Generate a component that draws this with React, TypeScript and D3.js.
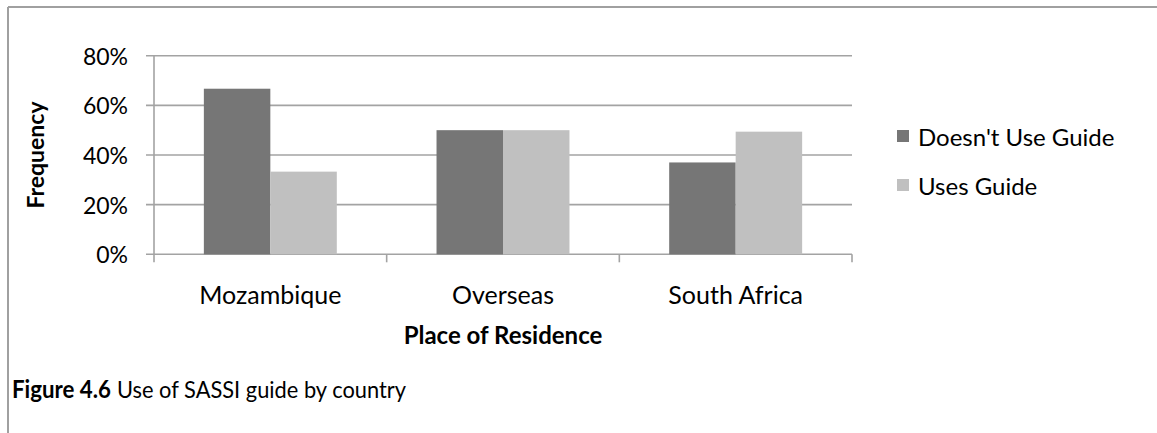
import React from 'react';
import * as d3 from 'd3';

const categories = ['Mozambique', 'Overseas', 'South Africa'];
const seriesNames = ["Doesn't Use Guide", 'Uses Guide'];
const doesntUseGuide = [0.667, 0.5, 0.37];
const usesGuide = [0.333, 0.5, 0.494];
const yTicks = [0, 0.2, 0.4, 0.6, 0.8];
const seriesColors = ['#767676', '#C0C0C0'];

const FONT = 'Lato, "Open Sans", sans-serif';

export default function App() {
  const W = 1157;
  const H = 433;
  const plot = { left: 154, right: 852, top: 55.7, bottom: 254.3 };
  const seriesData = [doesntUseGuide, usesGuide];

  const x = d3.scaleBand<string>().domain(categories).range([plot.left, plot.right]).padding(0);
  const xs = d3
    .scaleBand<string>()
    .domain(seriesNames)
    .range([0, x.bandwidth()])
    .paddingInner(0)
    .paddingOuter(0.75);
  const y = d3.scaleLinear().domain([0, 0.8]).range([plot.bottom, plot.top]);
  const fmt = d3.format('.0%');

  const gridColor = '#a3a3a3';
  const boundaries = [plot.left, ...categories.map((c) => (x(c) as number) + x.bandwidth())];

  return (
    <svg width={W} height={H} style={{ position: 'absolute', left: 0, top: 0, background: '#fff' }}>
      {/* outer frame */}
      <line x1={8} y1={7} x2={W} y2={7} stroke="#a0a0a0" strokeWidth={2} />
      <line x1={8} y1={7} x2={8} y2={H} stroke="#a0a0a0" strokeWidth={2} />

      {/* gridlines */}
      {yTicks.map((t) => (
        <line key={t} x1={plot.left - 8} x2={plot.right} y1={y(t)} y2={y(t)} stroke={gridColor} strokeWidth={1.6} />
      ))}
      {/* y axis */}
      <line x1={plot.left} x2={plot.left} y1={plot.top} y2={plot.bottom} stroke={gridColor} strokeWidth={1.6} />
      {/* x ticks */}
      {boundaries.map((b, i) => (
        <line key={i} x1={b} x2={b} y1={plot.bottom} y2={plot.bottom + 8} stroke={gridColor} strokeWidth={1.6} />
      ))}

      {/* bars */}
      {categories.map((c, ci) =>
        seriesNames.map((s, si) => {
          const v = seriesData[si][ci];
          return (
            <rect
              key={c + s}
              x={(x(c) as number) + (xs(s) as number)}
              y={y(v)}
              width={xs.bandwidth()}
              height={plot.bottom - y(v)}
              fill={seriesColors[si]}
            />
          );
        })
      )}

      {/* y tick labels */}
      {yTicks.map((t) => (
        <text
          key={t}
          x={128}
          y={y(t)}
          textAnchor="end"
          dominantBaseline="central"
          fontFamily={FONT}
          fontSize={23}
          fill="#000"
        >
          {fmt(t)}
        </text>
      ))}

      {/* category labels */}
      {categories.map((c) => (
        <text
          key={c}
          x={(x(c) as number) + x.bandwidth() / 2}
          y={294}
          textAnchor="middle"
          dominantBaseline="central"
          fontFamily={FONT}
          fontSize={25}
          fill="#000"
        >
          {c}
        </text>
      ))}

      {/* axis titles */}
      <text
        x={(plot.left + plot.right) / 2}
        y={334}
        textAnchor="middle"
        dominantBaseline="central"
        fontFamily={FONT}
        fontWeight="bold"
        fontSize={24}
        fill="#000"
      >
        Place of Residence
      </text>
      <text
        transform={`translate(35,${(plot.top + plot.bottom) / 2}) rotate(-90)`}
        textAnchor="middle"
        dominantBaseline="central"
        fontFamily={FONT}
        fontWeight="bold"
        fontSize={23}
        fill="#000"
      >
        Frequency
      </text>

      {/* legend */}
      {seriesNames.map((s, i) => {
        const cy = 136 + i * 49;
        return (
          <g key={s}>
            <rect x={897} y={cy - 6} width={12} height={12} fill={seriesColors[i]} />
            <text x={918} y={cy} dominantBaseline="central" fontFamily={FONT} fontSize={24} fill="#000">
              {s}
            </text>
          </g>
        );
      })}

      {/* caption */}
      <text
        x={12}
        y={388}
        dominantBaseline="central"
        fontFamily={FONT}
        fontSize={24}
        fontWeight="bold"
        textLength={99}
        lengthAdjust="spacingAndGlyphs"
        fill="#000"
      >
        Figure 4.6
      </text>
      <text
        x={117}
        y={388}
        dominantBaseline="central"
        fontFamily={FONT}
        fontSize={24}
        textLength={289}
        lengthAdjust="spacingAndGlyphs"
        fill="#000"
      >
        Use of SASSI guide by country
      </text>
    </svg>
  );
}
